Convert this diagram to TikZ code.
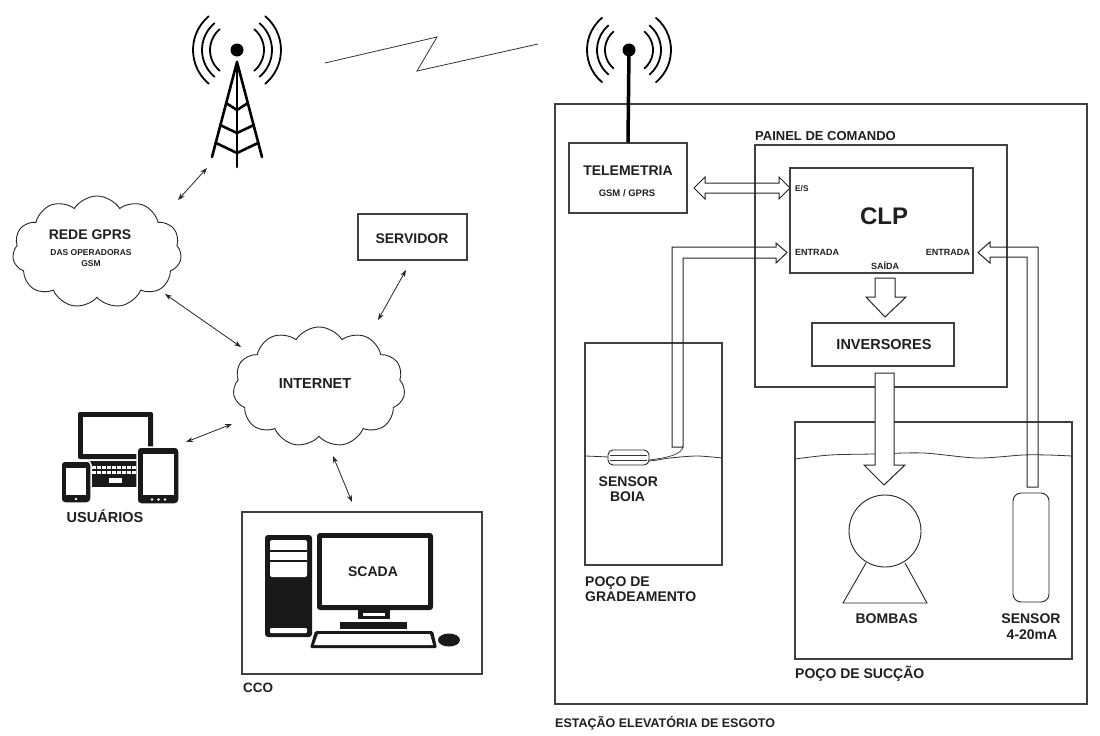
\documentclass[tikz,border=0pt]{standalone}
\usepackage{fontspec}
\setmainfont{Liberation Sans}
\usetikzlibrary{shapes.symbols,arrows.meta}
\begin{document}
\begin{tikzpicture}[x=1pt,y=-1pt,
  box/.style={draw=black!75, line width=1.1pt, inner sep=0pt},
  link/.style={draw=black!85, line width=0.8pt, {Stealth[length=7pt,width=5pt]}-{Stealth[length=7pt,width=5pt]}},
  pipe/.style={draw=black!85, line width=1pt, line join=miter},
  cloudy/.style={cloud, cloud puffs=11, cloud puff arc=115, aspect=1.5, draw=black!85, line width=0.9pt, inner sep=0pt},
  txt/.style={inner sep=0pt, anchor=base, text=black!88, font=\bfseries\fontsize{#1}{#1}\selectfont},
  txt/.default=14,
  mast/.style={line width=2.6pt, line cap=round, line join=round},
  radio/.style={line width=1.8pt, line cap=round},
  water/.style={draw=black!80, line width=0.8pt},
  icon/.style={fill=black!90}
]
\fill[white] (0,0) rectangle (1100,736);
\useasboundingbox (0,0) rectangle (1100,736);

% ---------- base station tower ----------
\fill (237,50) circle (6.5);
\foreach \r in {27,35,44} {
  \draw[radio] (237,50) ++(130:\r) arc[start angle=130, end angle=230, radius=\r];
  \draw[radio] (237,50) ++(-50:\r) arc[start angle=-50, end angle=50, radius=\r];
}
\draw[mast] (212,157) -- (237,62) -- (262,157);
\draw[mast] (237,62) -- (237,167);
\draw[mast] (226,103) -- (237,110) -- (248,103);
\draw[mast] (220,125) -- (237,133) -- (254,125);
\draw[mast] (216,143) -- (237,153) -- (258,143);

% radio link
\draw[black!80, line width=0.8pt] (325,63) -- (437,37) -- (417,71) -- (538,44);

% ---------- clouds ----------
\node[cloudy, minimum width=169pt, minimum height=112pt] (gprs) at (97,252) {};
\node[txt] at (90,239.5) {REDE GPRS};
\node[txt=8.5] at (91,255) {DAS OPERADORAS};
\node[txt=8.5] at (91,266) {GSM};

\node[cloudy, minimum width=172pt, minimum height=120pt] (inet) at (319,387) {};
\node[txt=14.5] at (315,388.3) {INTERNET};

% ---------- server ----------
\node[box, minimum width=109pt, minimum height=46pt] (srv) at (412.5,237) {};
\node[txt] at (412,243.3) {SERVIDOR};

% ---------- users ----------
\fill[icon, rounded corners=2pt] (78,412) rectangle (153,459);
\fill[white] (83,417) rectangle (148,454);
\fill[icon] (87,461) rectangle (140,487);
\foreach \r in {465.5,470.5}
  \foreach \c in {0,...,8}
    \fill[white] ({91.5+5*\c},\r) rectangle ++(4,3.5);
\fill[white] (109,478) rectangle (122,483);
\filldraw[icon, draw=white, line width=1.5pt, rounded corners=4pt] (61,461) rectangle (91,503);
\fill[white] (66,468) rectangle (86,495);
\fill[white] (76,499) circle (1.3);
\filldraw[icon, draw=white, line width=1.5pt, rounded corners=4pt] (137,447) rectangle (179,504);
\fill[white] (143,454) rectangle (174,495);
\foreach \x in {152,158.5,165} \fill[white] (\x,499.5) circle (1.4);
\node[txt=14.5] (usr) at (105,522.7) {USUÁRIOS};

% ---------- control centre ----------
\node[box, minimum width=240pt, minimum height=162pt] (cco) at (362,593) {};
\node[txt=13.5, anchor=base west] at (243,692.7) {CCO};
\fill[icon, rounded corners=3pt] (265,535) rectangle (312,637);
\fill[white, rounded corners=2pt] (270,540) rectangle (307,577);
\draw[black!90, line width=1.8pt] (270,551) -- (307,551) (270,561) -- (307,561);
\fill[white, rounded corners=1pt] (270,628) rectangle (307,633);
\fill[icon, rounded corners=3pt] (317,533) rectangle (433,610);
\fill[white] (322,538) rectangle (428,605);
\fill[icon] (358,609) rectangle (390,619);
\fill[white] (363,612.5) rectangle (385,615.5);
\fill[icon] (340,622) rectangle (407,629);
\fill[icon, rounded corners=1.5pt] (315,631) -- (433,631) -- (437,648) -- (310,648) -- cycle;
\fill[white] (318,634) -- (430,634) -- (433,645) -- (314,645) -- cycle;
\fill[icon] (449,640) ellipse [x radius=11, y radius=6.5];
\node[txt] at (373,576) {SCADA};

% ---------- links ----------
\coordinate (towerfoot) at (207,168);
\coordinate (gprsin) at (178,200);
\coordinate (gprsout) at (165,294);
\coordinate (inetNW) at (241,347);
\coordinate (srvout) at (406,270);
\coordinate (inetNE) at (378,320);
\coordinate (usrout) at (186,442);
\coordinate (inetW) at (232,424);
\coordinate (inetS) at (333,456);
\coordinate (ccoin) at (352,502);
\draw[link] (towerfoot) -- (gprsin);
\draw[link] (gprsout) -- (inetNW);
\draw[link] (srvout) -- (inetNE);
\draw[link] (usrout) -- (inetW);
\draw[link] (inetS) -- (ccoin);

% ---------- pumping station ----------
\node[box, minimum width=532pt, minimum height=600pt] (ete) at (821,404) {};
\node[txt=12.5, anchor=base west] at (555,727) {ESTAÇÃO ELEVATÓRIA DE ESGOTO};

% station antenna
\fill (629,50) circle (6.5);
\foreach \r in {24,32,42} {
  \draw[radio] (629,50) ++(130:\r) arc[start angle=130, end angle=230, radius=\r];
  \draw[radio] (629,50) ++(-50:\r) arc[start angle=-50, end angle=50, radius=\r];
}
\node[box, minimum width=118pt, minimum height=70pt] (tel) at (628,178) {};
\draw[line width=3.5pt] (629,50) -- (tel.north);
\node[txt] at (628,175) {TELEMETRIA};
\node[txt=9.5] at (627,196) {GSM / GPRS};

% control panel
\node[box, minimum width=252pt, minimum height=242pt] (painel) at (881,266) {};
\node[txt=13, anchor=base west] at (755,140) {PAINEL DE COMANDO};
\node[box, minimum width=183pt, minimum height=105pt] (clp) at (881.5,220.5) {};
\node[txt=24] at (884,224) {CLP};
\node[txt=8.3, anchor=base west] at (795,191.7) {E/S};
\node[txt=9, anchor=base west] at (795,255) {ENTRADA};
\node[txt=9, anchor=base east] at (970,255) {ENTRADA};
\node[txt=9] at (885,269.3) {SAÍDA};
\node[box, minimum width=142pt, minimum height=43pt] (inv) at (883,344.5) {};
\node[txt=14.5] at (884,349) {INVERSORES};

% screening well
\node[box, minimum width=137pt, minimum height=222pt] (grad) at (653.5,454) {};
\draw[water] plot[smooth] coordinates {(585,456) (608,457) (630,459) (649,461) (670,458) (697,456) (722,458)};
\filldraw[fill=white, draw=black!85, line width=0.9pt, rounded corners=5pt] (608,450) rectangle (649,465);
\draw[black!80, line width=0.7pt] (610,455) -- (647,455) (610,460) -- (647,460);
\draw[black!80, line width=0.7pt] (683,446) .. controls (683,455) and (665,458) .. (649,460);
\node[txt] at (628.3,486) {SENSOR};
\node[txt] at (627.5,501.7) {BOIA};
\node[txt, anchor=base west] at (585,586.7) {POÇO DE};
\node[txt, anchor=base west] at (585,601.7) {GRADEAMENTO};

% suction well
\node[box, minimum width=277pt, minimum height=237pt] (succ) at (933.5,540.5) {};
\draw[water] plot[smooth] coordinates {(795,459) (830,455) (873,454) (923,453) (977,458) (1023,455) (1048,455) (1072,456)};
\draw[black!85, line width=0.9pt] (885,531) circle (36);
\draw[black!85, line width=0.9pt] (866,563) -- (843,603) -- (927,603) -- (905,563);
\node[txt] at (886.7,623.3) {BOMBAS};
\draw[black!85, line width=0.9pt, rounded corners=8pt] (1013,493) rectangle (1049,602);
\node[txt] at (1031,623.3) {SENSOR};
\node[txt] at (1032,639.3) {4-20mA};
\node[txt, anchor=base west] at (795,678.3) {POÇO DE SUCÇÃO};

% ---------- hollow signal arrows ----------
\draw[pipe] (694,188) -- (705,177) -- (705,183) -- (779,183) -- (779,177) -- (790,188)
  -- (779,199) -- (779,193) -- (705,193) -- (705,199) -- cycle;
\draw[pipe] (672,447) -- (672,247) -- (776,247) -- (776,243) -- (787,252.5) -- (776,263)
  -- (776,258) -- (683,258) -- (683,447) -- cycle;
\draw[pipe] (1038,487) -- (1038,247) -- (990,247) -- (990,242) -- (978,252.5) -- (990,263)
  -- (990,257) -- (1027,257) -- (1027,487) -- cycle;
\draw[pipe] (875,278) -- (875,297) -- (866,297) -- (885,317) -- (906,297) -- (895,297) -- (895,278) -- cycle;
\filldraw[pipe, fill=white] (875,373) -- (875,465) -- (864,465) -- (884,485) -- (905,465) -- (894,465) -- (894,373) -- cycle;
\end{tikzpicture}
\end{document}
